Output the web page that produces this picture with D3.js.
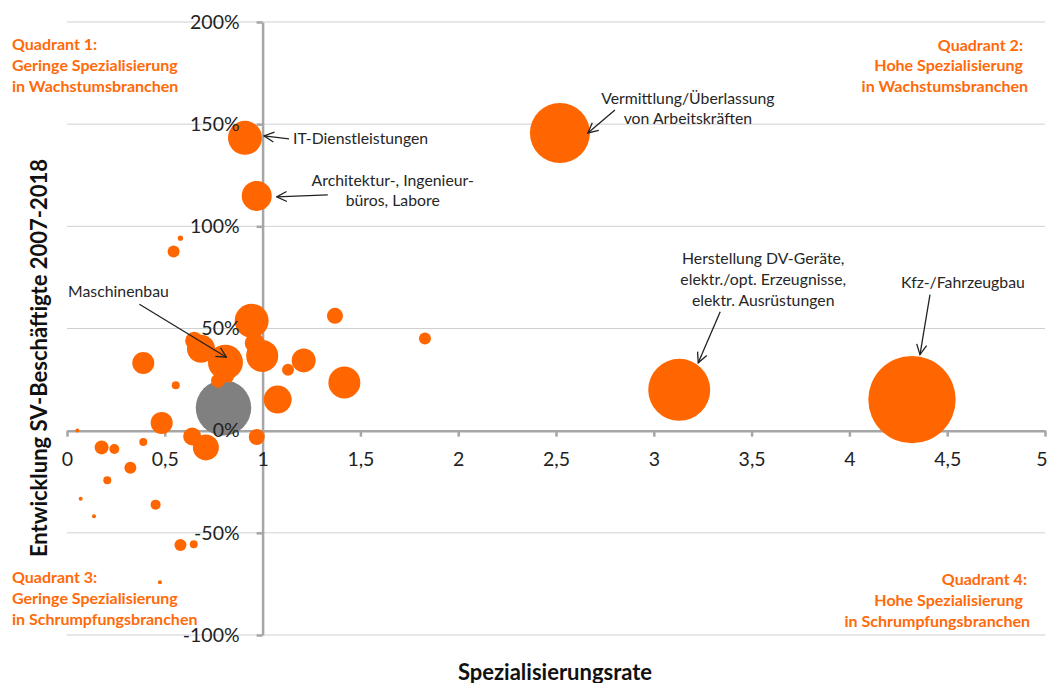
<!DOCTYPE html>
<html>
<head>
<meta charset="utf-8">
<script src="https://cdn.jsdelivr.net/npm/d3@7"></script>
<style>
  html, body { margin: 0; padding: 0; background: #fff; }
  svg { display: block; font-family: Lato, "Open Sans", sans-serif; }
</style>
</head>
<body>
<svg id="chart" width="1049" height="683"></svg>
<script>
// ---------- DATA ----------
// Spezialisierungsrate (x), Entwicklung SV-Beschäftigte 2007-2018 in % (y), bubble size (Beschäftigte, Tsd.)
const branchNames = [
  "Gesamt", "Kfz-/Fahrzeugbau", "Herstellung DV-Geräte", "Vermittlung/Überlassung",
  "Maschinenbau", "IT-Dienstleistungen", "Architektur-, Ingenieurbüros",
  "B01", "B02", "B03", "B04", "B05", "B06", "B07", "B08", "B09", "B10",
  "B11", "B12", "B13", "B14", "B15", "B16", "B17", "B18", "B19", "B20",
  "B21", "B22", "B23", "B24", "B25", "B26", "B27", "B28", "B29", "B30",
  "B31", "B32", "B33"
];
const specRate = [
  0.80, 4.32, 3.13, 2.52,
  0.81, 0.91, 0.97,
  0.58, 0.545, 0.944, 0.96, 0.998, 0.65, 0.685, 0.39, 0.556, 0.772,
  0.823, 1.13, 1.21, 1.37, 1.83, 1.418, 1.077, 0.484, 0.053, 0.64,
  0.71, 0.97, 0.177, 0.242, 0.39, 0.324, 0.206, 0.07, 0.138, 0.453,
  0.58, 0.648, 0.475
];
const growth = [
  11.2, 15.2, 20.0, 145.7,
  33.5, 143.3, 114.9,
  94.2, 87.7, 53.8, 42.9, 36.6, 44.0, 40.1, 33.1, 22.2, 24.4,
  26.4, 29.8, 34.4, 56.2, 45.1, 23.6, 15.2, 3.8, 0.1, -2.8,
  -8.2, -3.1, -8.2, -9.0, -5.5, -18.2, -24.3, -33.3, -41.9, -36.2,
  -55.9, -55.6, -74.2
];
const bubbleSize = [
  77, 191, 96, 90,
  30.6, 28.9, 22.5,
  0.7, 3.6, 28.9, 10, 25.6, 8.1, 19.6, 12.1, 1.6, 4.9,
  3.6, 3.6, 14.4, 6.4, 3.6, 25.6, 19.6, 12.1, 0.4, 8.1,
  16.9, 6.4, 4.9, 2.5, 1.6, 3.6, 1.6, 0.4, 0.4, 2.5,
  3.6, 1.6, 0.4
];
const xTicks = [0, 0.5, 1, 1.5, 2, 2.5, 3, 3.5, 4, 4.5, 5];
const yTicks = [-100, -50, 0, 50, 100, 150, 200];

const annotations = [
  { idx: 5, lines: ["IT-Dienstleistungen"], anchor: "start", tx: 48, ty: [0], tail: [44, 1], head: [19, -2] },
  { idx: 6, lines: ["Architektur-, Ingenieur-", "büros, Labore"], anchor: "middle", tx: 136, ty: [-16, 4], tail: [71, -1], head: [20, 1] },
  { idx: 3, lines: ["Vermittlung/Überlassung", "von Arbeitskräften"], anchor: "middle", tx: 128, ty: [-35, -15], tail: [55, -23], head: [28, 0] },
  { idx: 2, lines: ["Herstellung DV-Geräte,", "elektr./opt. Erzeugnisse,", "elektr. Ausrüstungen"], anchor: "middle", tx: 84, ty: [-132, -111, -90], tail: [41, -78], head: [19, -27] },
  { idx: 1, lines: ["Kfz-/Fahrzeugbau"], anchor: "middle", tx: 51, ty: [-118], tail: [18, -105], head: [8, -45] },
  { idx: 4, lines: ["Maschinenbau"], anchor: "middle", tx: -107, ty: [-72], tail: [-86, -58], head: [1, -5] }
];

const quadrants = [
  { lines: ["Quadrant 1:", "Geringe Spezialisierung", "in Wachstumsbranchen"], x: [12, 12, 12], y: [43, 64, 85], anchor: "start" },
  { lines: ["Quadrant 2:", "Hohe Spezialisierung", "in Wachstumsbranchen"], x: [1023, 1023, 1028], y: [44, 64, 85], anchor: "end" },
  { lines: ["Quadrant 3:", "Geringe Spezialisierung", "in Schrumpfungsbranchen"], x: [12, 12, 12], y: [576, 597, 618], anchor: "start" },
  { lines: ["Quadrant 4:", "Hohe Spezialisierung", "in Schrumpfungsbranchen"], x: [1027, 1023, 1030], y: [578, 599, 620], anchor: "end" }
];

// ---------- CHART ----------
const svg = d3.select("#chart");
const x = d3.scaleLinear().domain([0, 5]).range([67, 1045]);
const y = d3.scaleLinear().domain([-100, 200]).range([635, 22]);
const r = d3.scaleSqrt().domain([0, 191]).range([0, 43.7]);

const orange = "#FF6600";
const grey = "#808080";
const axisColor = "#a6a6a6";
const fmtX = d => String(d).replace(".", ",");
const fmtY = d => d + "%";

// gridlines
svg.append("g").selectAll("line").data(yTicks.filter(d => d !== 0)).join("line")
  .attr("x1", x(0)).attr("x2", x(5))
  .attr("y1", d => y(d)).attr("y2", d => y(d))
  .attr("stroke", "#d0d0d0").attr("stroke-width", 1);

// axis lines (behind bubbles)
const xAxisLines = svg.append("g").attr("transform", `translate(0,${y(0)})`)
  .call(d3.axisBottom(x).tickValues(xTicks).tickSize(6).tickSizeOuter(0).tickFormat(""));
const yAxisLines = svg.append("g").attr("transform", `translate(${x(1)},0)`)
  .call(d3.axisLeft(y).tickValues(yTicks).tickSize(6).tickSizeOuter(0).tickFormat(""));
[xAxisLines, yAxisLines].forEach(g => {
  g.select(".domain").attr("stroke", axisColor).attr("stroke-width", 2.5);
  g.selectAll(".tick line").attr("stroke", axisColor).attr("stroke-width", 2.5);
  g.selectAll("text").remove();
});

// bubbles
const pts = specRate.map((v, i) => ({ name: branchNames[i], x: v, y: growth[i], s: bubbleSize[i], i }));
const order = pts.slice().sort((a, b) => {
  if (a.i === 0) return -1;
  if (b.i === 0) return 1;
  return b.s - a.s;
});
svg.append("g").selectAll("circle").data(order).join("circle")
  .attr("cx", d => x(d.x)).attr("cy", d => y(d.y)).attr("r", d => r(d.s))
  .attr("fill", d => d.i === 0 ? grey : orange);

// tick labels (in front of bubbles)
const xAxisText = svg.append("g").attr("transform", `translate(0,${y(0)})`)
  .call(d3.axisBottom(x).tickValues(xTicks).tickSize(6).tickPadding(15).tickFormat(fmtX));
const yAxisText = svg.append("g").attr("transform", `translate(${x(1)},0)`)
  .call(d3.axisLeft(y).tickValues(yTicks).tickSize(6).tickPadding(17).tickFormat(fmtY));
[xAxisText, yAxisText].forEach(g => {
  g.select(".domain").remove();
  g.selectAll(".tick line").remove();
  g.selectAll("text").attr("fill", "#222").style("font-size", "19.5px").style("font-family", "Lato, sans-serif");
});
// last x label sits at the right edge like in the original; keep it inside the picture
xAxisText.selectAll(".tick").filter(d => d === 5).select("text").attr("text-anchor", "end").attr("dx", 2);

// annotations
const defs = svg.append("defs");
defs.append("marker").attr("id", "arrow").attr("viewBox", "0 0 12 12")
  .attr("refX", 11).attr("refY", 6).attr("markerWidth", 12).attr("markerHeight", 12)
  .attr("markerUnits", "userSpaceOnUse").attr("orient", "auto")
  .append("path").attr("d", "M1,1 L11,6 L1,11").attr("fill", "none").attr("stroke", "#222").attr("stroke-width", 1.3);

const ann = svg.append("g");
annotations.forEach(a => {
  const cx = x(specRate[a.idx]), cy = y(growth[a.idx]);
  ann.append("line")
    .attr("x1", cx + a.tail[0]).attr("y1", cy + a.tail[1])
    .attr("x2", cx + a.head[0]).attr("y2", cy + a.head[1])
    .attr("stroke", "#222").attr("stroke-width", 1.3).attr("marker-end", "url(#arrow)");
  a.lines.forEach((t, k) => {
    ann.append("text").attr("x", cx + a.tx).attr("y", cy + a.ty[k])
      .attr("text-anchor", a.anchor).attr("dominant-baseline", "central")
      .attr("fill", "#262626").style("font-size", "15.8px").text(t);
  });
});

// quadrant labels
quadrants.forEach(q => {
  q.lines.forEach((t, k) => {
    svg.append("text").attr("x", q.x[k]).attr("y", q.y[k])
      .attr("text-anchor", q.anchor).attr("dominant-baseline", "central")
      .attr("fill", "#FF6A0A").style("font-size", "16px").style("font-weight", "bold").text(t);
  });
});

// axis titles
svg.append("text").attr("transform", "translate(38,358) rotate(-90)")
  .attr("text-anchor", "middle").attr("dominant-baseline", "central")
  .attr("fill", "#111").style("font-size", "22px").style("font-weight", "bold")
  .text("Entwicklung SV-Beschäftigte 2007-2018");
svg.append("text").attr("x", 555).attr("y", 671)
  .attr("text-anchor", "middle").attr("dominant-baseline", "central")
  .attr("fill", "#111").style("font-size", "22px").style("font-weight", "bold")
  .text("Spezialisierungsrate");
</script>
</body>
</html>
